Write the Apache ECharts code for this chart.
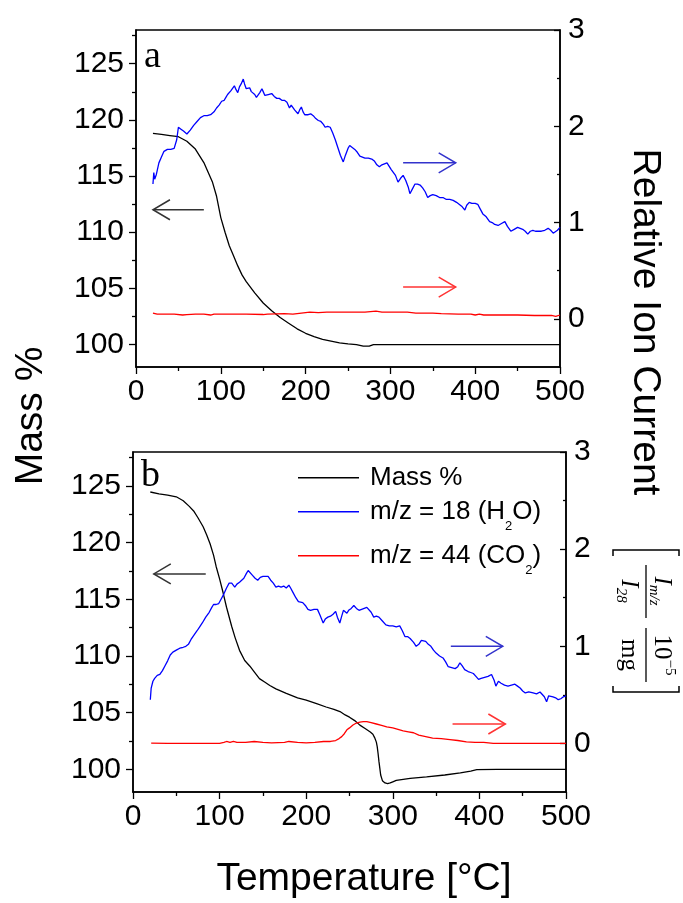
<!DOCTYPE html>
<html><head><meta charset="utf-8">
<script src="https://cdn.jsdelivr.net/npm/echarts@6/dist/echarts.min.js"></script>
<style>html,body{margin:0;padding:0;background:#fff}#c{width:683px;height:903px}</style>
</head><body><div id="c"></div>
<script>
// ---------- DATA ----------
// panel a
const tMassA = [20,30,40,50,60,70,80,90,95,100,105,110,115,120,125,130,140,150,160,170,180,190,200,210,220,230,240,250,260,268,275,280,290,300,400,500];
const massA  = [118.8,118.7,118.6,118.5,118.1,117.4,116.2,114.5,113.2,111.3,110.0,108.8,107.9,107.0,106.2,105.6,104.6,103.7,103.0,102.4,101.9,101.4,101.0,100.7,100.45,100.3,100.15,100.05,100.0,99.85,99.85,100.0,100.0,100.0,100.0,100.0];
const tH2OA = [20,21,22,24,27,30,33,37,41,45,48,50,53,56,60,64,68,72,76,80,84,88,92,95,98,101,104,106,108,110,112,114,116,118,120,122,124,126.5,128,130,132,134,136,138,140,142,144,146,148.5,150,152,154,156,158,160,163,166,169,172,175,178,181,183,185,187,189,191,193,195,197,199,201,203,206,209,212,215,218,221,223,226,229,232,235,238,241,244.4,247,250,252,255,258,261,264,266,270,274,278,281,284,287,290,293,296,298,301,303,306,309,312,315,318,321,323,326,329,332,335,338,341,344,347,350,354,358,362,366,370,374,378,381,384,387.8,390,393,396,400,403,406,409,413,417,420,423,427,431,435,438,442,446,450,453,456,459,462,465,468,471,475,478,482,486,489,492,494,497,500];
const h2oA  = [1.40,1.52,1.45,1.50,1.62,1.68,1.74,1.76,1.76,1.77,1.86,1.99,1.97,1.95,1.92,1.96,2.01,2.05,2.09,2.11,2.11,2.12,2.15,2.19,2.22,2.26,2.27,2.30,2.33,2.31,2.37,2.35,2.42,2.38,2.35,2.41,2.44,2.49,2.44,2.39,2.38,2.40,2.36,2.37,2.33,2.30,2.29,2.35,2.39,2.36,2.32,2.30,2.33,2.35,2.34,2.31,2.29,2.29,2.27,2.27,2.25,2.19,2.22,2.22,2.17,2.16,2.13,2.17,2.20,2.15,2.12,2.10,2.12,2.13,2.11,2.08,2.06,2.05,2.02,1.99,2.00,1.99,1.93,1.86,1.78,1.70,1.63,1.70,1.77,1.80,1.78,1.76,1.73,1.69,1.67,1.67,1.67,1.66,1.64,1.60,1.58,1.60,1.61,1.62,1.60,1.55,1.53,1.49,1.42,1.46,1.49,1.44,1.37,1.30,1.35,1.40,1.40,1.39,1.36,1.32,1.26,1.28,1.29,1.28,1.26,1.26,1.24,1.24,1.23,1.21,1.19,1.17,1.13,1.18,1.21,1.20,1.20,1.19,1.14,1.09,1.06,1.01,1.00,0.98,0.97,0.99,1.01,0.96,0.91,0.93,0.95,0.94,0.93,0.91,0.88,0.91,0.92,0.91,0.91,0.91,0.92,0.94,0.92,0.89,0.88,0.92,0.95];
const tCO2A = [20,22,25,35,45,55,60,70,80,88,92,110,130,150,155,175,185,195,205,215,225,250,270,283,290,320,330,350,360,380,395,400,405,410,450,470,490,495,500];
const co2A  = [0.06,0.07,0.05,0.05,0.05,0.04,0.045,0.05,0.05,0.04,0.05,0.05,0.05,0.045,0.05,0.055,0.05,0.06,0.07,0.065,0.07,0.07,0.07,0.08,0.07,0.07,0.06,0.06,0.055,0.05,0.05,0.04,0.05,0.04,0.04,0.035,0.035,0.025,0.04];
// panel b
const tMassB = [20,30,40,50,58,65,70,75,81,85,89,93,96,100,104,108,114,118,123,129,135,140,146,152,158,165,177,190,200,212,223,232,239,245,250,256,262,268,274,277,279,281,282,283,284,285,286,288,291,294,297,300,304,320,339,360,378,390,397,420,500];
const massB  = [124.47,124.3,124.2,124.05,123.7,123.2,122.8,122.2,121.4,120.7,119.9,118.9,117.9,116.8,115.6,114.3,112.6,111.6,110.5,109.6,109.1,108.6,108.0,107.7,107.4,107.1,106.7,106.3,106.1,105.8,105.5,105.3,105.1,104.8,104.6,104.3,103.9,103.6,103.3,103.1,102.8,102.4,102.0,101.4,100.7,100.1,99.5,99.0,98.8,98.74,98.8,98.9,99.03,99.2,99.33,99.5,99.68,99.85,99.97,100,100];
const tH2OB = [20,21,23,25,28,31,34,37,40,43,46,50,54,58,61,64,67,70,74,77,80,84,88,91,93,96,99,102,105,108,111,114,117.5,120,123,125,128,131,133,135,138,141,144,147,150,153,156,159,162,165,168,171,174,177,180,182,185,188,191,193,196,199,202,205,209,213,216,219.6,222,225,228,231,234,236,238.8,241,243,245,247,249,252,255,258,261,264,267,270,272,275,278,281,284,288,292,296,300,304,308,311,314,317,320,324,327,330,333,335,338,341,344,347,350,354,358,361,364,368,372,375,377.5,380,383,387,390,393,396,399,402,406,410,414,417,419,422,425,429,433,437,441,444,447,450,453,457,462,466,470,472,475,477.6,480,482,485,488,491,494,497,500];
const h2oB  = [0.45,0.57,0.64,0.67,0.70,0.71,0.75,0.80,0.85,0.91,0.94,0.96,0.98,0.99,1.00,1.02,1.07,1.11,1.16,1.20,1.24,1.30,1.35,1.40,1.43,1.43,1.44,1.49,1.54,1.60,1.65,1.65,1.61,1.64,1.66,1.68,1.70,1.75,1.78,1.77,1.73,1.70,1.68,1.71,1.72,1.72,1.72,1.68,1.65,1.61,1.62,1.61,1.62,1.60,1.63,1.60,1.55,1.50,1.46,1.44,1.45,1.42,1.38,1.37,1.38,1.38,1.32,1.24,1.28,1.30,1.31,1.33,1.36,1.30,1.24,1.31,1.37,1.39,1.34,1.37,1.39,1.42,1.39,1.37,1.38,1.39,1.40,1.41,1.35,1.30,1.31,1.30,1.26,1.22,1.21,1.21,1.20,1.21,1.16,1.10,1.10,1.08,1.04,1.00,1.02,1.06,1.08,1.05,1.02,1.00,0.96,0.93,0.90,0.88,0.84,0.79,0.78,0.77,0.79,0.83,0.80,0.76,0.74,0.73,0.72,0.69,0.66,0.67,0.68,0.69,0.71,0.65,0.59,0.64,0.62,0.60,0.59,0.60,0.61,0.59,0.57,0.54,0.52,0.53,0.52,0.51,0.53,0.52,0.48,0.43,0.49,0.51,0.48,0.47,0.45,0.46,0.48,0.49];
const tCO2B = [21,40,60,80,100,105,108,112,116,120,130,140,150,160,175,180,190,200,210,220,228,234,238,241,244,247,250,254,258,262,266,270,275,281,287,293,300,306,312,318,324,330,338,346,356,366,375,385,395,405,416,450,500];
const co2B  = [0.003,0.0,0.0,0.0,0.0,0.01,0.02,0.01,0.02,0.01,0.01,0.02,0.01,0.005,0.01,0.02,0.01,0.005,0.01,0.02,0.02,0.03,0.05,0.07,0.10,0.14,0.16,0.19,0.21,0.22,0.225,0.225,0.215,0.20,0.185,0.17,0.16,0.145,0.13,0.12,0.11,0.085,0.07,0.055,0.05,0.04,0.03,0.015,0.01,0.01,0.0,0.0,0.0];

// tick values
const massTicks = [100,105,110,115,120,125];
const massMinorTicks = [102.5,107.5,112.5,117.5,122.5,127.5];
const ionTicks = [0,1,2,3];
const ionMinorTicks = [0.5,1.5,2.5];

// names
const seriesNames = ['Mass %','m/z = 18 (H2O)','m/z = 44 (CO2)'];
const legendRich = {
  'Mass %': '{sp| }Mass %',
  'm/z = 18 (H2O)': '{sp| }m/z = 18 (H{sub|2}O)',
  'm/z = 44 (CO2)': '{sp| }m/z = 44 (CO{sub|2})'
};
const panelLabels = ['a','b'];

// arrows in data coordinates: [fromT, fromV, toT, toV, yAxis(0 left / 1 right), color]
const arrowsA = [[80,112,20,112,0,'#333333'],[315,1.62,377,1.62,1,'#3333cc'],[315,0.33,377,0.33,1,'#ff3333']];
const arrowsB = [[84,117.24,24,117.24,0,'#333333'],[367,1.0,427,1.0,1,'#3333cc'],[369,0.2,430,0.2,1,'#ff3333']];

// ---------- CHART ----------
const F = "'Liberation Sans', Arial, sans-serif";
const S = "'Liberation Serif', 'Times New Roman', serif";
const chart = echarts.init(document.getElementById('c'), null, {renderer:'canvas'});
const black = '#000';
const grids = [
  {left:136, top:30, width:424, height:337},
  {left:133, top:452, width:433, height:340}
];
function xAx(gi){
  return {type:'value', gridIndex:gi, min:0, max:500, interval:100,
    axisLine:{onZero:false, lineStyle:{color:black, width:1.5}},
    axisTick:{length:7, lineStyle:{color:black, width:1.3}},
    minorTick:{show:true, splitNumber:2, length:4, lineStyle:{color:black, width:1.3}},
    splitLine:{show:false}, minorSplitLine:{show:false},
    axisLabel:{fontSize:30, fontFamily:F, color:black, margin:10}};
}
function yAxes(gi){
  const base = {type:'value', gridIndex:gi, splitLine:{show:false}};
  return [
    Object.assign({}, base, {position:'left', min:98, max:128,
      axisLine:{show:true, onZero:false, lineStyle:{color:black, width:1.5}},
      axisTick:{show:true, length:7, customValues:massTicks, lineStyle:{color:black, width:1.3}},
      axisLabel:{customValues:massTicks, fontSize:30, fontFamily:F, color:black, margin:12}}),
    Object.assign({}, base, {position:'right', min:-0.5, max:3,
      axisLine:{show:true, onZero:false, lineStyle:{color:black, width:1.5}},
      axisTick:{show:true, inside:true, length:6, customValues:ionTicks, lineStyle:{color:black, width:1.3}},
      axisLabel:{customValues:ionTicks, fontSize:30, fontFamily:F, color:black, margin:8}}),
    Object.assign({}, base, {position:'left', min:98, max:128,
      axisLine:{show:false, onZero:false},
      axisTick:{show:true, length:4, customValues:massMinorTicks, lineStyle:{color:black, width:1.3}},
      axisLabel:{show:false}}),
    Object.assign({}, base, {position:'right', min:-0.5, max:3,
      axisLine:{show:false, onZero:false},
      axisTick:{show:true, inside:true, length:3, customValues:ionMinorTicks, lineStyle:{color:black, width:1.3}},
      axisLabel:{show:false}})
  ];
}
function pairs(t, v){ return t.map((x,i)=>[x, v[i]]); }
function line(name, gi, yi, t, v, color){
  return {type:'line', name:name, xAxisIndex:gi, yAxisIndex:gi*4+yi, data:pairs(t,v),
    symbol:'none', showSymbol:false, smooth:false,
    lineStyle:{color:color, width:1.3}, itemStyle:{color:color}, z:3};
}
const series = [
  line(seriesNames[0],0,0,tMassA,massA,'#000000'),
  line(seriesNames[1],0,1,tH2OA,h2oA,'#0000ff'),
  line(seriesNames[2],0,1,tCO2A,co2A,'#ff0000'),
  line(seriesNames[0],1,0,tMassB,massB,'#000000'),
  line(seriesNames[1],1,1,tH2OB,h2oB,'#0000ff'),
  line(seriesNames[2],1,1,tCO2B,co2B,'#ff0000')
];
const legendTops = [477.7, 511.7, 555.7];
const legends = seriesNames.map((n,i)=>({
  data:[n], orient:'vertical', left:298, top:legendTops[i]-21, padding:0,
  icon:'rect', itemWidth:61, itemHeight:1.4, selectedMode:false,
  formatter:(name)=>legendRich[name],
  textStyle:{fontFamily:F, fontSize:26, color:black, lineHeight:42,
    rich:{sp:{width:6, fontSize:26, lineHeight:42},
          sub:{fontSize:13, lineHeight:13, padding:[29,0,0,0], fontFamily:F, color:black}}}
}));

chart.setOption({
  animation:false,
  backgroundColor:'#fff',
  grid: grids.map(g=>Object.assign({show:true, borderColor:black, borderWidth:1.5, backgroundColor:'transparent', containLabel:false}, g)),
  xAxis:[xAx(0), xAx(1)],
  yAxis: yAxes(0).concat(yAxes(1)),
  legend: legends,
  series: series
});

// ---------- ANNOTATIONS ----------
function arrowEls(list, gi){
  const els = [];
  list.forEach(a=>{
    const finder = {xAxisIndex:gi, yAxisIndex:gi*4 + a[4]};
    const p0 = chart.convertToPixel(finder, [a[0], a[1]]);
    const p1 = chart.convertToPixel(finder, [a[2], a[3]]);
    const dir = Math.sign(p1[0]-p0[0]);
    els.push({type:'line', shape:{x1:p0[0], y1:p0[1], x2:p1[0], y2:p1[1]}, style:{stroke:a[5], lineWidth:1.5}, z:10});
    els.push({type:'polyline', shape:{points:[[p1[0]-dir*17, p1[1]-10],[p1[0],p1[1]],[p1[0]-dir*17, p1[1]+10]]}, style:{stroke:a[5], fill:null, lineWidth:1.5}, z:10});
  });
  return els;
}
const gfx = [].concat(arrowEls(arrowsA,0), arrowEls(arrowsB,1));
gfx.push({type:'text', x:144, y:57, style:{text:panelLabels[0], fontFamily:S, fontSize:38, fill:black, align:'left', verticalAlign:'middle'}, z:10});
gfx.push({type:'text', x:141, y:476, style:{text:panelLabels[1], fontFamily:S, fontSize:38, fill:black, align:'left', verticalAlign:'middle'}, z:10});
gfx.push({type:'text', x:31, y:416, rotation:Math.PI/2, style:{text:'Mass %', fontFamily:F, fontSize:39, fill:black, align:'center', verticalAlign:'middle'}});
gfx.push({type:'text', x:364, y:879, style:{text:'Temperature [°C]', fontFamily:F, fontSize:39, fill:black, align:'center', verticalAlign:'middle'}});
gfx.push({type:'text', x:645, y:322, rotation:-Math.PI/2, style:{text:'Relative Ion Current', fontFamily:F, fontSize:39, fill:black, align:'center', verticalAlign:'middle'}});
// unit bracket  [ I_m/z / I_28  10^-5 / mg ]
const mathRich = {
  i:{fontFamily:S, fontStyle:'italic', fontSize:25, lineHeight:30},
  s:{fontFamily:S, fontStyle:'italic', fontSize:15, lineHeight:15, padding:[16,0,0,0]},
  n:{fontFamily:S, fontSize:25, lineHeight:30},
  p:{fontFamily:S, fontSize:15, lineHeight:15, padding:[0,0,16,0]}
};
gfx.push({type:'group', x:646, y:657, rotation:-Math.PI/2, children:[
  {type:'polyline', shape:{points:[[-101,-33],[-107,-33],[-107,33],[-101,33]]}, style:{stroke:black, fill:null, lineWidth:1.5}},
  {type:'text', x:-66, y:-16, style:{text:'{i|I}{s|m/z}', rich:mathRich, align:'center', verticalAlign:'middle', fill:black}},
  {type:'line', shape:{x1:-92, y1:0, x2:-39, y2:0}, style:{stroke:black, lineWidth:1.3}},
  {type:'text', x:-66, y:17, style:{text:'{i|I}{s|28}', rich:mathRich, align:'center', verticalAlign:'middle', fill:black}},
  {type:'text', x:-2, y:-16, style:{text:'{n|10}{p|−5}', rich:mathRich, align:'center', verticalAlign:'middle', fill:black}},
  {type:'line', shape:{x1:-29, y1:0, x2:25, y2:0}, style:{stroke:black, lineWidth:1.3}},
  {type:'text', x:-2, y:17, style:{text:'{n|mg}', rich:mathRich, align:'center', verticalAlign:'middle', fill:black}},
  {type:'polyline', shape:{points:[[29,-33],[35,-33],[35,33],[29,33]]}, style:{stroke:black, fill:null, lineWidth:1.5}}
]});
chart.setOption({graphic:{elements:gfx}});
</script></body></html>
